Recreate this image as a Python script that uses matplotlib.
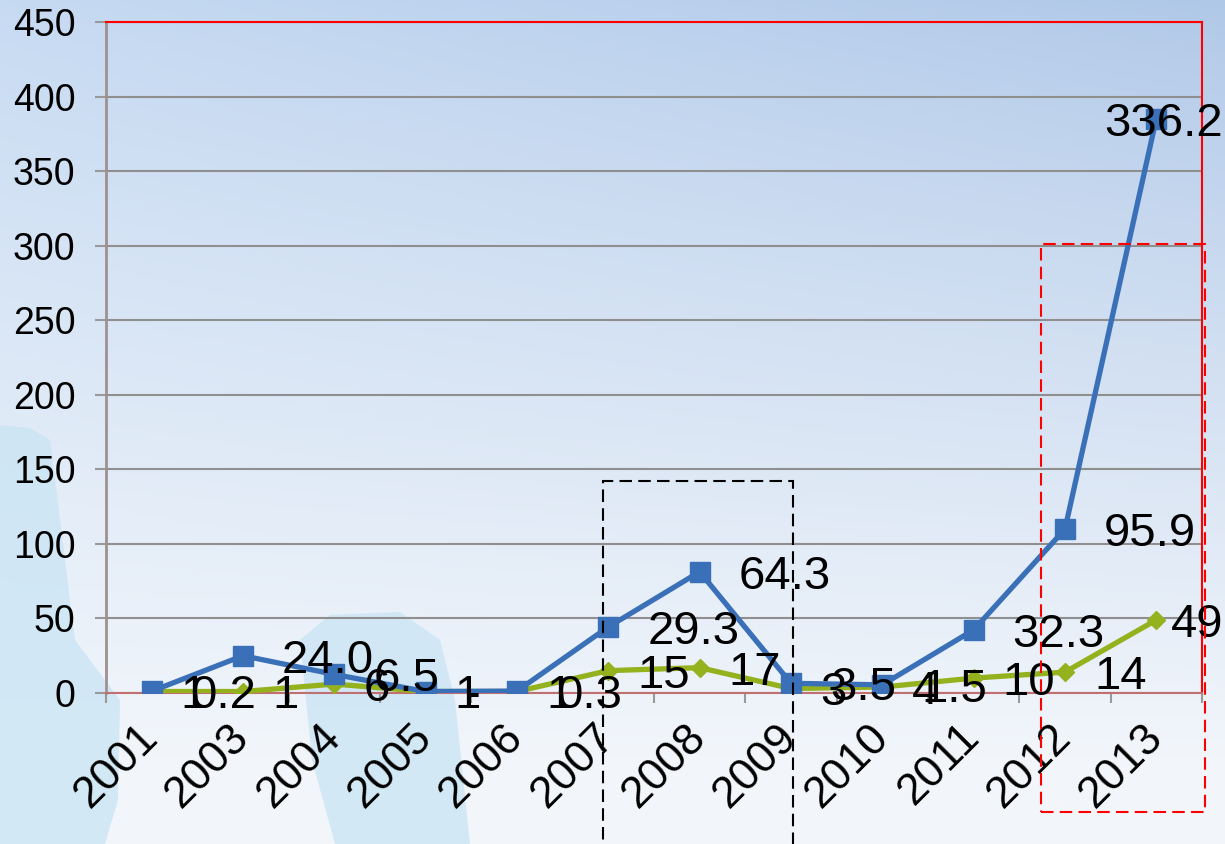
import numpy as np
import matplotlib
matplotlib.use("Agg")
import matplotlib.pyplot as plt
from matplotlib.patches import Rectangle, Polygon

plt.rcParams['font.family'] = ['Liberation Sans', 'DejaVu Sans']

# data (green series is the base, blue is stacked on top of it)
years = ['2001', '2003', '2004', '2005', '2006', '2007',
         '2008', '2009', '2010', '2011', '2012', '2013']
green_vals = [1, 1, 6, 1, 1, 15, 17, 3, 4, 10, 14, 49]
blue_vals = [0.2, 24.0, 6.5, 0, 0.3, 29.3, 64.3, 3.5, 1.5, 32.3, 95.9, 336.2]
green_labels = ['1', '1', '6', '1', '1', '15', '17', '3', '4', '10', '14', '49']
blue_labels = ['0.2', '24.0', '6.5', '-', '0.3', '29.3', '64.3', '3.5', '1.5',
               '32.3', '95.9', '336.2']

BLUE = '#3a70b8'
GREEN = '#94b11e'

W_PX, H_PX = 1225, 844
fig = plt.figure(figsize=(W_PX / 100, H_PX / 100), dpi=100)

# background gradient + light decorative shapes
bg = fig.add_axes([0, 0, 1, 1], zorder=-10)
bg.axis('off')
yy, xx = np.mgrid[0:1:220j, 0:1:320j]
tl = np.array([198, 218, 242]) / 255.
tr = np.array([176, 200, 232]) / 255.
bot = np.array([242, 246, 251]) / 255.
t = np.clip(yy ** 0.9 * 1.1, 0, 1)[..., None]
xw = xx[..., None]
top_c = tl * (1 - xw) + tr * xw
img = top_c * (1 - t) + bot * t
bg.imshow(img, extent=[0, W_PX, H_PX, 0], aspect='auto')
left_shape = [(0, 425), (30, 428), (50, 440), (60, 520), (75, 640), (120, 700),
              (118, 800), (105, 844), (0, 844)]
hand_shape = [(300, 640), (330, 615), (400, 612), (440, 640), (455, 700),
              (470, 844), (335, 844), (312, 760)]
for shp in (left_shape, hand_shape):
    bg.add_patch(Polygon(shp, closed=True, color='#c9e4f4', alpha=0.75, lw=0))
bg.set_xlim(0, W_PX)
bg.set_ylim(H_PX, 0)

ax = fig.add_axes([0.0865, 0.1789, 0.8947, 0.7950])
ax.patch.set_alpha(0)

x = np.arange(len(years))
stacked = np.array(green_vals) + np.array(blue_vals)

ax.plot(x, green_vals, color=GREEN, lw=3.8, marker='D', ms=9.5, zorder=3)
ax.plot(x, stacked, color=BLUE, lw=3.8, marker='s', ms=14, zorder=4)

ax.set_xlim(-0.5, len(years) - 0.5)
ax.set_ylim(0, 450)
ax.set_yticks(range(0, 451, 50))
ax.yaxis.grid(True, color='#8f8f8f', lw=1.5)
ax.set_axisbelow(True)

ax.set_xticks(x)
ax.set_xticklabels(years, rotation=45, ha='right', va='center',
                   rotation_mode='anchor', fontsize=32)
ax.set_xticks(np.arange(-0.5, len(years), 1), minor=True)
ax.tick_params(axis='x', which='major', length=0, pad=27)
ax.tick_params(axis='x', which='minor', length=7, width=1.5, color='#999999')
ax.tick_params(axis='y', length=8, width=1.5, color='#999999', pad=14, labelsize=27)

for s in ['top', 'right']:
    ax.spines[s].set_color('red')
    ax.spines[s].set_linewidth(1.5)
ax.spines['left'].set_color('#a09090')
ax.spines['left'].set_linewidth(2)
ax.spines['bottom'].set_color('#c07070')
ax.spines['bottom'].set_linewidth(1.5)

# data labels, right of each point
fs = 34
anns = []
for i in range(len(years)):
    a = ax.annotate(green_labels[i], (x[i], green_vals[i]), xytext=(21, -0.358 * fs),
                    textcoords='offset points', ha='left', va='baseline',
                    fontsize=fs, zorder=6, annotation_clip=False)
    anns.append(a)
    a = ax.annotate(blue_labels[i], (x[i], stacked[i]), xytext=(28, -0.358 * fs),
                    textcoords='offset points', ha='left', va='baseline',
                    fontsize=fs, zorder=6, annotation_clip=False)
    anns.append(a)

# keep labels inside the figure like the chart engine does
fig.canvas.draw()
r = fig.canvas.get_renderer()
W = fig.bbox.width
for a in anns:
    bb = a.get_window_extent(r)
    if bb.x1 > W - 2:
        dx, dy = a.xyann
        a.xyann = (dx - (bb.x1 - W + 2) * 72 / fig.dpi, dy)

# highlight boxes
ax.add_patch(Rectangle((4.94, -300), 7.02 - 4.94, 142 + 300, fill=False,
                       ec='black', lw=1.5, ls=(0, (6, 3)), clip_on=False, zorder=7))
ax.add_patch(Rectangle((9.74, -80), 11.53 - 9.74, 301 + 80, fill=False,
                       ec='red', lw=1.5, ls=(0, (6, 3)), clip_on=False, zorder=7))

fig.savefig('out.png', dpi=100)
